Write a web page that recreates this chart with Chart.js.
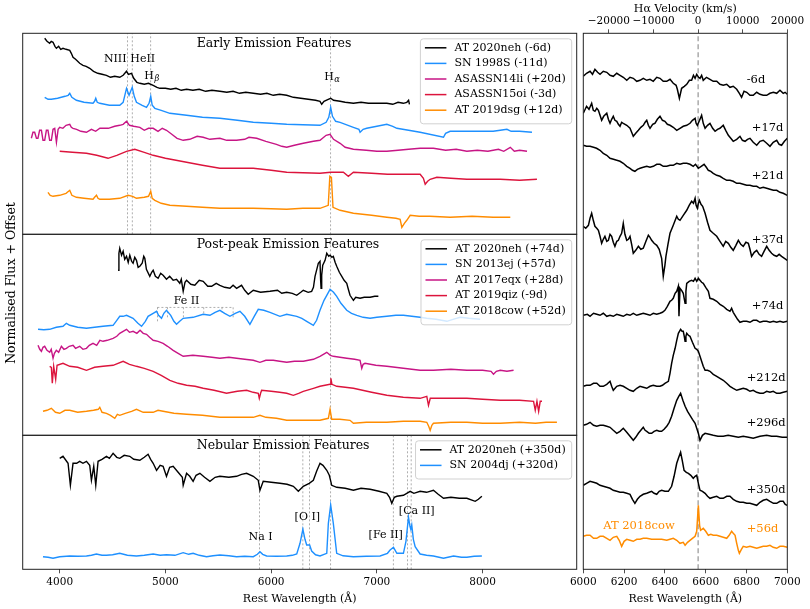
<!DOCTYPE html>
<html>
<head>
    <meta charset="utf-8">
    <title>Spectral comparison of AT 2020neh</title>
    <style>
        body { margin: 0; background: #fff; }
        .figure { position: relative; width: 810px; height: 609px; }
        .figure canvas { position: absolute; left: 0; top: 0; }
    </style>
</head>
<body>
    <div class="figure">
        <canvas id="early" width="810" height="609"></canvas>
        <canvas id="postpeak" width="810" height="609"></canvas>
        <canvas id="nebular" width="810" height="609"></canvas>
        <canvas id="halpha" width="810" height="609"></canvas>
    </div>

    <script src="https://cdn.jsdelivr.net/npm/chart.js"></script>
    <script>
        // ---- data: [rest wavelength (A), normalised flux + offset] ----

        // Early emission features
        const early_2020neh = [[3858,19.6],[3880,19.3],[3905,19.1],[3920,19.3],[3937,19.2],[3955,18.8],[3969,18.6],[3990,18.8],[4010,18.5],[4031,18.6],[4060,18.5],[4095,18.4],[4110,18.1],[4126,17.7],[4150,17.5],[4189,17.1],[4220,16.9],[4250,16.8],[4284,16.6],[4320,16.3],[4360,16.1],[4400,16.0],[4442,15.9],[4480,15.7],[4520,15.8],[4568,15.7],[4600,15.9],[4632,16.3],[4650,16.0],[4679,16.1],[4700,15.6],[4730,15.2],[4758,15.1],[4800,15.0],[4840,15.1],[4884,14.9],[4920,14.7],[4947,14.6],[5000,14.6],[5050,14.5],[5100,14.6],[5150,14.4],[5200,14.5],[5260,14.4],[5320,14.5],[5380,14.3],[5440,14.4],[5515,14.3],[5580,14.2],[5640,14.3],[5700,14.1],[5760,14.2],[5831,14.1],[5900,14.0],[5960,14.1],[6020,13.9],[6080,14.0],[6147,13.9],[6210,13.7],[6280,13.6],[6350,13.5],[6420,13.4],[6462,13.3],[6478,13.0],[6500,13.3],[6540,13.5],[6563,13.6],[6590,13.4],[6652,13.3],[6700,13.2],[6778,13.1],[6850,13.2],[6920,13.1],[7000,13.1],[7094,13.1],[7150,13.0],[7200,13.2],[7250,13.1],[7283,13.2],[7300,13.4],[7308,13.0]];
        const early_1998S = [[3858,13.7],[3890,13.5],[3921,13.5],[3980,13.6],[4050,13.8],[4080,13.9],[4095,14.1],[4115,13.7],[4158,13.4],[4230,13.2],[4315,13.1],[4330,13.3],[4341,13.6],[4355,13.2],[4379,13.1],[4470,12.9],[4568,12.9],[4600,13.2],[4632,14.6],[4656,13.9],[4686,14.7],[4705,13.8],[4726,13.2],[4780,12.9],[4821,12.7],[4845,13.1],[4861,13.8],[4875,12.9],[4900,12.6],[4960,12.4],[5042,12.1],[5200,11.9],[5350,11.7],[5515,11.6],[5680,11.4],[5831,11.2],[6000,11.1],[6147,11.0],[6300,10.95],[6462,10.9],[6520,11.2],[6545,11.7],[6563,12.7],[6580,11.8],[6610,11.3],[6652,11.2],[6778,10.7],[6830,10.5],[6841,10.2],[6870,10.5],[6904,10.6],[7000,10.8],[7094,11.0],[7150,10.8],[7189,10.6],[7300,10.4],[7409,10.2],[7630,9.7],[7650,10.1],[7693,10.3],[7900,10.3],[8100,10.3],[8167,10.4],[8230,10.5],[8270,10.3],[8350,10.3],[8467,10.2]];
        const early_14li = [[3732,9.6],[3747,10.2],[3763,10.2],[3780,9.6],[3794,9.6],[3810,10.4],[3827,10.4],[3842,9.4],[3858,9.4],[3874,10.4],[3889,10.4],[3905,9.4],[3921,9.4],[3937,10.5],[3953,10.6],[3969,9.2],[3985,10.5],[4000,10.7],[4030,10.6],[4060,10.9],[4095,11.0],[4110,10.7],[4126,10.6],[4160,10.5],[4200,10.3],[4253,10.2],[4300,10.5],[4340,10.3],[4380,10.6],[4410,10.6],[4460,10.6],[4520,10.8],[4568,10.9],[4600,11.0],[4632,11.3],[4660,10.9],[4700,10.8],[4758,10.7],[4800,10.4],[4840,10.6],[4884,10.6],[4930,10.3],[4970,10.6],[5010,10.4],[5060,10.0],[5110,9.6],[5168,9.4],[5230,9.5],[5300,9.8],[5357,9.7],[5420,9.5],[5515,9.6],[5580,9.4],[5673,9.4],[5750,9.5],[5790,9.7],[5863,9.6],[5950,9.3],[6050,9.0],[6100,8.8],[6147,8.7],[6220,8.9],[6304,9.1],[6400,9.3],[6462,9.4],[6520,9.9],[6557,10.0],[6590,9.5],[6652,9.1],[6700,8.7],[6778,8.5],[6900,8.4],[7000,8.3],[7094,8.3],[7200,8.4],[7300,8.5],[7409,8.6],[7535,8.6],[7650,8.4],[7750,8.5],[7851,8.3],[7950,8.4],[8050,8.3],[8150,8.5],[8200,8.3],[8262,8.7],[8300,8.3],[8350,8.4],[8420,8.3]];
        const early_15oi = [[4000,8.3],[4120,8.2],[4253,8.1],[4350,7.9],[4457,7.6],[4540,7.9],[4632,8.3],[4710,8.5],[4800,8.2],[4884,7.9],[5000,7.6],[5100,7.4],[5200,7.2],[5350,6.9],[5515,6.6],[5680,6.6],[5831,6.6],[6000,6.4],[6147,6.2],[6300,6.15],[6462,6.1],[6563,6.2],[6683,6.2],[6730,5.8],[6778,6.2],[6950,6.1],[7100,6.0],[7250,6.0],[7409,6.0],[7440,5.6],[7457,5.0],[7480,5.3],[7504,5.5],[7567,5.7],[7700,5.6],[7851,5.5],[8000,5.5],[8167,5.5],[8350,5.4],[8514,5.5]];
        const early_2019dsg = [[3889,4.2],[3910,3.9],[3937,3.8],[4000,3.9],[4060,4.1],[4095,4.4],[4115,3.9],[4158,3.7],[4230,3.6],[4315,3.5],[4330,3.7],[4348,3.9],[4362,3.6],[4379,3.5],[4470,3.5],[4568,3.6],[4647,3.9],[4690,3.8],[4726,3.6],[4800,3.7],[4840,3.8],[4861,4.3],[4875,3.6],[4900,3.4],[4960,3.1],[5042,2.9],[5200,2.8],[5350,2.7],[5515,2.6],[5680,2.6],[5831,2.6],[6000,2.55],[6147,2.5],[6300,2.6],[6462,2.6],[6540,2.9],[6555,5.8],[6570,5.7],[6585,2.7],[6652,2.4],[6778,2.1],[6950,1.9],[7094,1.7],[7180,1.6],[7220,1.5],[7236,0.7],[7260,1.1],[7283,1.4],[7315,1.9],[7400,1.8],[7500,1.8],[7693,1.7],[7900,1.8],[8100,1.7],[8262,1.7]];
        const early_labels = ['AT 2020neh (-6d)', 'SN 1998S (-11d)', 'ASASSN14li (+20d)', 'ASASSN15oi (-3d)', 'AT 2019dsg (+12d)'];
        const early_lines = [4640, 4686, 4861, 6563];

        // Post-peak emission features
        const post_2020neh = [[4552,16.5],[4560,18.2],[4568,18.7],[4585,18.0],[4600,18.4],[4615,17.6],[4632,17.9],[4648,17.3],[4663,18.0],[4680,17.4],[4694,17.2],[4710,17.8],[4726,17.5],[4742,16.8],[4758,16.9],[4780,17.2],[4795,17.9],[4805,17.7],[4820,16.6],[4852,15.9],[4870,16.3],[4884,16.5],[4905,15.9],[4931,15.7],[4955,16.2],[4978,16.0],[5010,15.6],[5040,15.9],[5073,15.5],[5105,15.6],[5136,15.2],[5150,15.6],[5168,14.4],[5185,15.3],[5200,15.5],[5240,15.1],[5278,15.0],[5320,15.5],[5357,15.4],[5400,14.9],[5437,14.9],[5480,15.2],[5515,15.0],[5560,14.8],[5610,14.7],[5640,15.0],[5673,14.7],[5720,15.0],[5750,14.5],[5783,14.1],[5831,14.5],[5900,14.3],[5989,14.4],[6060,14.5],[6100,14.2],[6147,14.3],[6200,14.2],[6242,14.0],[6280,14.3],[6304,14.5],[6350,14.3],[6383,14.4],[6400,14.8],[6415,15.9],[6446,17.2],[6462,17.4],[6468,15.5],[6472,14.7],[6478,16.0],[6488,17.0],[6510,17.5],[6526,18.2],[6545,17.9],[6557,18.0],[6575,17.8],[6588,17.9],[6605,17.3],[6620,16.9],[6645,16.3],[6668,15.9],[6690,15.5],[6715,15.2],[6730,14.6],[6746,14.0],[6778,13.5],[6800,13.8],[6841,13.7],[6880,13.8],[6936,13.8],[6980,13.9],[7014,13.9]];
        const post_2013ej = [[3795,10.6],[3850,10.55],[3905,10.6],[3968,10.8],[4031,10.9],[4063,11.2],[4095,11.0],[4170,10.8],[4253,10.7],[4330,10.8],[4410,10.9],[4505,11.0],[4540,11.5],[4568,11.9],[4600,11.9],[4632,12.0],[4694,11.7],[4740,11.2],[4774,10.9],[4810,11.4],[4836,11.9],[4884,12.2],[4916,12.4],[4935,12.0],[4963,11.7],[4985,12.2],[5010,12.5],[5050,12.0],[5080,11.4],[5105,11.1],[5135,11.4],[5168,11.7],[5262,11.8],[5357,12.1],[5421,12.0],[5470,12.3],[5515,12.5],[5560,12.2],[5610,11.9],[5660,12.2],[5705,12.4],[5750,11.9],[5799,11.1],[5840,11.9],[5878,12.6],[5930,12.5],[5989,12.3],[6083,11.9],[6147,12.1],[6242,11.9],[6290,11.7],[6336,11.4],[6399,11.0],[6430,11.5],[6462,12.5],[6500,13.5],[6526,14.0],[6557,14.6],[6590,14.3],[6620,13.9],[6660,13.2],[6715,12.5],[6760,12.2],[6810,12.0],[6870,11.8],[6936,11.7],[7000,11.8],[7094,11.9],[7180,12.0],[7251,12.0],[7330,11.9],[7409,11.8],[7472,11.7],[7560,11.6],[7662,11.4],[7720,11.6],[7788,11.8],[7870,11.7],[7977,11.6]];
        const post_2017eqx = [[3795,9.0],[3811,8.6],[3827,8.4],[3842,8.8],[3858,8.9],[3880,8.5],[3905,8.3],[3920,8.6],[3937,7.7],[3950,8.2],[3968,8.5],[3990,8.3],[4016,8.9],[4040,8.6],[4063,8.7],[4090,8.9],[4126,9.0],[4150,8.7],[4189,8.9],[4220,8.6],[4253,8.7],[4280,9.0],[4315,9.2],[4350,9.0],[4380,9.5],[4410,9.4],[4450,9.5],[4505,9.7],[4540,9.9],[4568,10.2],[4600,10.4],[4632,10.6],[4660,10.3],[4694,10.4],[4730,10.2],[4760,10.5],[4790,10.2],[4821,10.1],[4850,9.8],[4884,9.5],[4930,9.4],[4978,9.2],[5020,8.9],[5073,8.5],[5120,8.2],[5168,7.9],[5260,8.0],[5357,7.9],[5440,7.8],[5515,7.7],[5600,7.8],[5673,7.7],[5750,7.6],[5831,7.5],[5894,7.3],[5950,7.5],[6020,7.5],[6080,7.4],[6147,7.3],[6220,7.4],[6304,7.4],[6400,7.6],[6462,7.9],[6526,8.3],[6560,8.0],[6588,7.9],[6650,7.8],[6715,7.7],[6790,7.6],[6841,7.5],[6857,6.7],[6870,7.1],[6888,7.2],[6990,7.0],[7094,6.9],[7250,6.7],[7409,6.5],[7535,6.5],[7700,6.6],[7851,6.5],[8000,6.5],[8080,6.4],[8103,6.1],[8130,6.4],[8167,6.5],[8230,6.4],[8293,6.5]];
        const post_2019qiz = [[3905,6.9],[3921,6.8],[3930,5.2],[3943,6.9],[3962,5.6],[3975,7.0],[4031,7.2],[4095,6.9],[4170,6.8],[4253,6.5],[4330,6.8],[4410,6.9],[4505,7.0],[4600,7.4],[4660,7.1],[4726,6.9],[4800,6.7],[4884,6.4],[4960,6.0],[5042,5.5],[5120,5.2],[5200,5.0],[5280,4.9],[5357,4.7],[5460,4.5],[5578,4.2],[5680,4.4],[5768,4.5],[5830,4.3],[5878,4.2],[5888,3.7],[5900,4.2],[5910,4.5],[6000,4.4],[6080,4.3],[6147,4.2],[6210,4.0],[6260,4.2],[6304,4.4],[6400,4.7],[6462,4.9],[6557,5.1],[6565,5.7],[6575,5.1],[6620,4.9],[6700,4.8],[6778,4.7],[6950,4.3],[7094,4.0],[7250,3.8],[7409,3.7],[7472,3.9],[7488,3.0],[7505,3.7],[7520,3.7],[7700,3.7],[7851,3.7],[8000,3.6],[8167,3.5],[8350,3.5],[8482,3.4],[8498,2.5],[8514,3.4],[8530,2.4],[8545,3.4],[8562,3.4]];
        const post_2018cow = [[3842,2.4],[3880,2.5],[3921,2.7],[3960,2.3],[4000,2.2],[4050,2.5],[4095,2.5],[4170,2.3],[4253,2.4],[4320,2.5],[4365,2.6],[4379,2.8],[4400,2.3],[4442,2.2],[4480,2.0],[4521,1.7],[4545,2.1],[4568,2.0],[4620,2.2],[4680,2.4],[4726,2.6],[4790,2.3],[4884,2.3],[4930,2.5],[4978,2.4],[5080,2.2],[5200,2.1],[5350,2.0],[5515,1.8],[5680,1.8],[5831,1.8],[5894,2.0],[5950,1.8],[6050,1.7],[6147,1.5],[6300,1.5],[6462,1.5],[6541,1.7],[6557,2.6],[6573,1.6],[6650,1.6],[6746,1.5],[6778,1.2],[6900,1.3],[7094,1.3],[7250,1.4],[7409,1.4],[7472,1.3],[7490,0.9],[7504,0.5],[7520,1.0],[7535,1.2],[7700,1.3],[7851,1.3],[8000,1.2],[8167,1.2],[8350,1.3],[8500,1.2],[8600,1.3],[8703,1.3]];
        const post_labels = ['AT 2020neh (+74d)', 'SN 2013ej (+57d)', 'AT 2017eqx (+28d)', 'AT 2019qiz (-9d)', 'AT 2018cow (+52d)'];
        const post_lines = [6563];
        const feII_lines = [4924, 5018, 5169, 5363, 5535, 5640];
        const feII_floor = [11.3, 11.6, 11.6, 12.1, 12.3, 11.8];
        const feII_top = 12.8;

        // Nebular emission features
        const neb_2020neh = [[4000,11.1],[4031,11.3],[4079,10.6],[4101,8.4],[4126,10.6],[4160,10.6],[4189,10.8],[4220,10.6],[4253,10.8],[4284,10.4],[4300,8.9],[4322,10.3],[4341,8.4],[4363,10.8],[4400,11.0],[4442,11.3],[4470,11.1],[4505,11.6],[4540,11.2],[4568,11.1],[4610,11.4],[4663,11.3],[4700,11.0],[4758,10.9],[4800,11.2],[4836,11.5],[4860,11.0],[4884,10.6],[4916,9.9],[4950,10.4],[4978,10.3],[5010,9.3],[5040,10.2],[5073,10.3],[5120,9.7],[5160,9.2],[5168,8.4],[5200,9.6],[5230,9.3],[5262,8.8],[5290,9.4],[5326,9.6],[5370,9.2],[5421,8.8],[5470,9.2],[5515,9.3],[5600,9.2],[5673,9.3],[5720,9.5],[5768,9.6],[5831,9.3],[5878,8.9],[5894,7.9],[5925,8.8],[6000,8.7],[6083,8.6],[6150,8.5],[6210,8.3],[6257,7.8],[6304,8.3],[6360,8.6],[6399,8.9],[6430,9.8],[6462,10.6],[6490,10.4],[6526,9.9],[6550,9.4],[6573,8.4],[6620,8.2],[6700,8.1],[6778,7.9],[6850,8.1],[6936,8.0],[7020,7.8],[7094,7.6],[7120,7.2],[7141,6.6],[7165,7.2],[7189,7.3],[7251,7.4],[7315,7.8],[7350,7.6],[7409,7.8],[7470,7.7],[7535,7.9],[7580,7.5],[7630,7.1],[7700,7.2],[7780,7.1],[7851,7.1],[7930,6.8],[7960,7.0],[7993,7.3]];
        const neb_2004dj = [[3842,1.26],[3890,1.2],[3937,1.1],[4000,1.25],[4095,1.33],[4170,1.3],[4253,1.33],[4300,1.4],[4347,1.53],[4400,1.4],[4442,1.4],[4500,1.45],[4568,1.6],[4640,1.4],[4726,1.33],[4800,1.4],[4884,1.53],[4950,1.4],[5010,1.46],[5090,1.4],[5168,1.66],[5220,1.5],[5262,1.6],[5320,1.4],[5389,1.26],[5450,1.35],[5515,1.43],[5600,1.35],[5673,1.26],[5750,1.3],[5831,1.26],[5870,1.5],[5894,1.76],[5920,1.5],[5957,1.33],[6050,1.3],[6147,1.33],[6200,1.4],[6242,1.53],[6273,2.6],[6300,4.0],[6320,3.0],[6336,2.43],[6364,2.43],[6383,1.83],[6420,1.45],[6462,1.33],[6526,1.6],[6541,4.6],[6563,6.43],[6588,4.6],[6620,1.6],[6680,1.35],[6778,1.26],[6900,1.3],[7030,1.33],[7100,1.6],[7125,1.93],[7157,2.2],[7189,1.6],[7251,1.6],[7275,2.8],[7299,5.2],[7313,4.3],[7321,4.0],[7330,4.43],[7345,3.0],[7362,2.26],[7409,1.53],[7470,1.4],[7535,1.33],[7630,1.1],[7725,1.33],[7800,1.2],[7851,1.2],[7920,1.3],[7993,1.33]];
        const neb_labels = ['AT 2020neh (+350d)', 'SN 2004dj (+320d)'];
        const neb_lines = [5890, 6300, 6364, 6563, 7155, 7291, 7324];

        // H-alpha region, AT 2020neh epochs + AT 2018cow
        const ha_m6 = [[6000,49.3],[6016,49.6],[6033,49.8],[6045,49.5],[6057,50.0],[6070,49.7],[6082,49.5],[6098,49.8],[6115,49.7],[6131,49.4],[6147,49.3],[6164,49.6],[6180,49.4],[6196,49.2],[6213,48.9],[6229,49.2],[6245,49.1],[6262,48.8],[6278,48.9],[6294,49.1],[6311,48.9],[6327,49.0],[6343,48.8],[6360,49.2],[6376,49.1],[6392,48.8],[6409,48.8],[6425,49.0],[6441,48.6],[6455,48.4],[6461,48.0],[6471,47.1],[6482,48.1],[6495,48.3],[6507,48.5],[6520,48.9],[6531,48.9],[6540,49.4],[6548,49.1],[6556,49.5],[6565,49.2],[6572,49.1],[6580,49.4],[6588,48.9],[6604,49.2],[6621,49.0],[6637,48.8],[6654,48.8],[6670,48.5],[6686,48.4],[6703,48.5],[6719,48.2],[6735,48.3],[6752,48.0],[6765,47.6],[6776,47.2],[6788,47.8],[6801,47.7],[6817,47.4],[6833,47.4],[6850,47.7],[6866,47.5],[6882,47.4],[6899,47.4],[6915,47.6],[6932,47.7],[6948,47.6],[6964,47.9],[6980,47.6],[6989,47.7],[7000,47.5]];
        const ha_p17 = [[6000,45.6],[6016,46.3],[6028,46.0],[6041,46.6],[6049,45.9],[6057,45.8],[6066,46.1],[6074,45.9],[6082,45.4],[6090,44.9],[6100,45.3],[6115,45.6],[6123,45.0],[6131,44.6],[6139,45.0],[6147,45.3],[6155,44.9],[6164,44.8],[6172,44.5],[6180,44.3],[6188,44.7],[6196,44.6],[6213,44.4],[6229,44.1],[6237,43.7],[6245,43.3],[6257,43.6],[6270,43.9],[6282,44.2],[6294,44.4],[6303,44.7],[6311,44.9],[6319,44.4],[6327,44.1],[6340,44.5],[6351,44.6],[6363,45.0],[6376,45.3],[6388,44.9],[6400,44.8],[6412,44.5],[6425,44.4],[6441,44.2],[6458,43.9],[6474,44.1],[6490,44.3],[6507,44.4],[6523,44.6],[6535,44.9],[6548,45.1],[6553,44.6],[6559,44.4],[6570,44.9],[6580,45.4],[6588,44.6],[6597,44.1],[6609,44.4],[6621,44.6],[6634,44.1],[6646,43.8],[6658,44.0],[6670,44.1],[6686,44.4],[6698,43.9],[6711,43.4],[6723,43.1],[6735,42.8],[6752,43.0],[6768,43.3],[6780,42.9],[6793,42.8],[6805,43.0],[6817,43.1],[6833,42.7],[6850,42.4],[6866,42.8],[6882,42.9],[6899,42.6],[6915,42.3],[6931,42.7],[6948,42.9],[6960,42.5],[6972,42.4],[6986,42.8],[7000,43.1]];
        const ha_p21 = [[6000,42.4],[6016,42.3],[6033,42.3],[6050,42.2],[6065,42.1],[6082,41.9],[6098,41.6],[6115,41.4],[6131,41.1],[6148,41.0],[6164,40.9],[6180,40.8],[6196,40.6],[6213,40.3],[6229,40.1],[6241,39.9],[6253,39.8],[6265,40.0],[6278,40.1],[6294,40.2],[6311,40.3],[6327,40.2],[6343,40.3],[6360,40.5],[6376,40.5],[6392,40.3],[6409,40.3],[6425,40.4],[6441,40.4],[6458,40.6],[6474,40.5],[6490,40.6],[6507,40.6],[6523,40.5],[6539,40.3],[6550,40.5],[6564,40.1],[6578,40.3],[6592,40.5],[6603,40.2],[6613,39.9],[6625,39.8],[6637,39.6],[6654,39.4],[6670,39.3],[6686,39.1],[6703,38.9],[6719,38.9],[6735,38.8],[6752,38.6],[6768,38.6],[6784,38.5],[6801,38.4],[6817,38.4],[6833,38.3],[6850,38.3],[6866,38.1],[6882,38.2],[6899,38.1],[6915,38.0],[6932,37.9],[6948,37.9],[6964,37.7],[6980,37.6],[7000,37.4]];
        const ha_p37 = [[6000,34.3],[6012,34.1],[6025,34.4],[6033,35.1],[6041,35.6],[6049,34.9],[6057,34.3],[6066,34.1],[6074,33.9],[6082,33.3],[6090,32.6],[6098,33.0],[6106,33.3],[6115,32.8],[6123,32.9],[6131,33.5],[6139,33.3],[6147,32.7],[6155,32.3],[6164,32.8],[6172,32.9],[6180,33.3],[6188,33.6],[6196,34.6],[6204,33.5],[6213,32.9],[6221,33.0],[6229,33.3],[6237,32.5],[6245,31.6],[6257,31.9],[6270,32.3],[6282,32.0],[6294,32.1],[6307,32.8],[6319,33.4],[6327,33.2],[6335,32.9],[6347,32.6],[6360,32.4],[6372,32.0],[6384,31.1],[6392,29.3],[6400,30.4],[6405,31.3],[6415,32.5],[6425,33.6],[6441,34.4],[6458,35.3],[6466,35.0],[6474,34.9],[6490,35.4],[6507,35.9],[6519,36.4],[6531,36.8],[6540,36.6],[6548,37.1],[6553,36.4],[6559,36.1],[6564,36.6],[6569,36.9],[6577,36.5],[6585,36.3],[6597,35.6],[6609,34.7],[6621,33.9],[6637,33.6],[6654,33.3],[6670,32.8],[6686,32.3],[6698,32.8],[6711,32.6],[6723,32.2],[6735,31.9],[6748,32.4],[6760,32.9],[6772,32.5],[6784,32.3],[6797,32.7],[6809,32.6],[6817,32.0],[6825,31.3],[6838,31.7],[6850,31.9],[6862,31.5],[6874,31.3],[6886,31.8],[6899,32.3],[6911,31.9],[6923,31.6],[6935,31.4],[6948,31.3],[6960,31.5],[6972,31.3],[6986,31.1],[7000,30.9]];
        const ha_p74 = [[6000,25.4],[6020,25.5],[6033,25.3],[6050,25.6],[6066,25.5],[6082,25.4],[6098,25.6],[6115,25.3],[6131,25.4],[6147,25.3],[6164,25.5],[6180,25.4],[6196,25.3],[6213,25.5],[6229,25.4],[6245,25.6],[6262,25.4],[6278,25.5],[6294,25.6],[6311,25.5],[6327,25.4],[6343,25.6],[6360,25.5],[6376,25.6],[6388,25.7],[6400,25.9],[6412,26.3],[6425,26.8],[6433,26.9],[6441,27.1],[6450,27.6],[6458,27.8],[6466,28.3],[6469,25.3],[6474,28.1],[6482,27.9],[6490,27.6],[6499,26.6],[6503,27.8],[6507,28.6],[6519,28.8],[6531,28.9],[6540,28.8],[6548,29.1],[6556,28.8],[6564,29.1],[6572,28.9],[6580,28.7],[6588,28.6],[6600,28.2],[6613,27.8],[6621,27.1],[6637,27.0],[6654,26.8],[6670,26.5],[6686,26.3],[6703,26.0],[6719,25.8],[6727,26.1],[6735,25.7],[6744,25.4],[6756,25.0],[6768,24.7],[6784,24.8],[6801,24.8],[6817,24.7],[6833,24.9],[6850,24.9],[6866,24.7],[6882,24.8],[6899,24.8],[6915,24.7],[6932,24.8],[6948,24.7],[6964,24.8],[6980,24.7],[7000,24.8]];
        const ha_p212 = [[6000,18.3],[6016,18.4],[6033,18.4],[6050,18.6],[6066,18.6],[6082,18.3],[6098,18.3],[6115,18.5],[6131,18.8],[6139,18.3],[6147,17.9],[6164,18.3],[6180,18.4],[6196,18.3],[6213,18.1],[6229,17.9],[6245,17.8],[6262,18.1],[6278,18.3],[6294,18.2],[6311,18.1],[6327,18.3],[6343,18.4],[6360,18.3],[6376,18.3],[6388,18.4],[6400,18.6],[6417,18.8],[6425,19.6],[6433,20.6],[6441,21.4],[6450,22.1],[6458,22.9],[6466,23.6],[6477,24.0],[6484,23.8],[6490,23.8],[6495,23.3],[6499,22.8],[6503,23.3],[6507,23.6],[6515,23.4],[6523,23.3],[6535,22.7],[6548,22.1],[6556,22.0],[6564,21.8],[6572,21.3],[6580,20.8],[6588,20.3],[6597,19.9],[6609,19.9],[6621,19.8],[6637,19.5],[6654,19.3],[6670,19.1],[6686,18.9],[6703,18.6],[6719,18.3],[6735,18.1],[6752,17.9],[6768,18.0],[6784,18.1],[6801,18.0],[6817,17.8],[6833,17.9],[6850,17.7],[6866,17.6],[6882,17.6],[6899,17.8],[6915,17.7],[6931,17.8],[6948,17.6],[6964,17.6],[6980,17.7],[7000,17.8]];
        const ha_p296 = [[6000,14.4],[6016,14.5],[6033,14.7],[6050,14.4],[6066,14.3],[6082,14.4],[6098,14.4],[6115,14.3],[6131,14.2],[6147,13.9],[6164,13.6],[6180,13.8],[6196,14.1],[6213,13.7],[6229,13.3],[6245,12.9],[6257,13.2],[6270,13.6],[6282,13.9],[6294,14.2],[6303,13.9],[6311,13.8],[6323,13.6],[6335,13.6],[6347,13.8],[6360,13.9],[6372,13.8],[6384,13.8],[6396,14.0],[6409,14.3],[6421,14.7],[6433,15.3],[6445,16.1],[6458,16.9],[6468,17.3],[6477,17.6],[6488,16.9],[6499,16.3],[6511,15.8],[6523,15.4],[6535,15.0],[6548,14.6],[6556,14.1],[6564,13.6],[6572,12.9],[6584,13.4],[6597,13.6],[6617,13.5],[6637,13.4],[6660,13.3],[6686,13.3],[6710,13.4],[6735,13.3],[6760,13.2],[6784,13.3],[6810,13.2],[6833,13.1],[6866,13.3],[6899,13.4],[6923,13.3],[6948,13.3],[6975,13.2],[7000,13.2]];
        const ha_p350 = [[6000,8.4],[6016,8.6],[6033,8.8],[6050,8.7],[6066,8.6],[6082,8.4],[6098,8.3],[6115,8.2],[6131,8.1],[6147,7.9],[6164,7.8],[6180,7.7],[6196,7.7],[6213,7.6],[6229,7.5],[6241,7.0],[6253,6.6],[6265,7.0],[6278,7.3],[6294,7.5],[6311,7.6],[6323,7.7],[6335,7.8],[6347,7.6],[6360,7.5],[6372,7.8],[6384,7.9],[6400,7.8],[6417,7.8],[6433,8.3],[6445,9.3],[6458,10.6],[6468,11.2],[6477,11.7],[6485,10.9],[6494,9.9],[6505,9.7],[6515,9.6],[6527,9.4],[6539,9.1],[6548,9.3],[6556,9.4],[6564,8.6],[6572,7.9],[6584,7.8],[6597,7.6],[6609,7.3],[6621,7.1],[6637,7.2],[6654,7.3],[6670,7.1],[6686,7.1],[6703,7.3],[6719,7.3],[6735,7.0],[6752,6.8],[6768,6.7],[6784,6.7],[6801,6.6],[6817,6.6],[6833,6.5],[6850,6.4],[6866,6.7],[6882,6.9],[6899,7.0],[6915,6.8],[6932,6.6],[6948,6.6],[6964,6.8],[6980,6.8],[6990,6.5],[7000,6.4]];
        const ha_cow = [[6000,3.3],[6016,3.4],[6033,3.4],[6050,3.1],[6066,3.1],[6082,3.3],[6098,3.3],[6115,3.1],[6131,2.9],[6147,3.2],[6164,3.3],[6176,2.9],[6188,2.3],[6200,2.8],[6213,3.0],[6229,2.9],[6245,2.8],[6262,3.0],[6278,3.0],[6294,3.1],[6311,3.1],[6335,3.0],[6360,3.0],[6384,3.0],[6409,2.9],[6425,3.0],[6441,3.1],[6458,2.9],[6474,2.6],[6490,2.7],[6499,2.4],[6511,2.7],[6523,2.9],[6535,3.1],[6548,3.3],[6556,3.8],[6564,6.4],[6570,4.4],[6575,3.9],[6588,4.1],[6600,3.8],[6613,3.4],[6625,3.5],[6637,3.4],[6654,3.4],[6670,3.3],[6686,3.2],[6703,3.1],[6715,3.4],[6727,3.8],[6735,3.6],[6744,3.4],[6752,2.6],[6760,1.9],[6765,1.6],[6775,2.0],[6784,2.3],[6800,2.2],[6817,2.3],[6833,2.2],[6850,2.1],[6866,2.2],[6882,2.3],[6899,2.3],[6915,2.4],[6931,2.2],[6948,2.1],[6964,2.3],[6980,2.3],[7000,2.2]];
        const ha_epochs = ['-6d', '+17d', '+21d', '+37d', '+74d', '+212d', '+296d', '+350d', '+56d'];
        const ha_epoch_pos = [[6801,48.9],[6826,44.1],[6826,39.3],[6826,32.9],[6826,26.3],[6801,19.1],[6801,14.6],[6801,7.9],[6801,4.0]];

        // axis ticks
        const wlTicks = [4000, 5000, 6000, 7000, 8000];
        const haTicks = [6000, 6200, 6400, 6600, 6800, 7000];
        const velTicks = [-20000, -10000, 0, 10000, 20000];
        const halpha = 6563;
        const cLight = 299792.458;

        const C_BLACK = '#000000', C_BLUE = '#1E90FF', C_MAGENTA = '#C71585', C_RED = '#DC143C', C_ORANGE = '#FF8C00';
        const FIVE = [C_BLACK, C_BLUE, C_MAGENTA, C_RED, C_ORANGE];

        Chart.defaults.font.family = "'DejaVu Serif', serif";
        Chart.defaults.color = '#000';
        Chart.defaults.animation = false;
        Chart.defaults.events = [];

        function spectrum(label, color, pairs, width) {
            return {
                label: label, isSpectrum: true,
                data: pairs.map(p => ({x: p[0], y: p[1]})),
                borderColor: color, backgroundColor: color,
                borderWidth: width || 1.4, pointRadius: 0, tension: 0, fill: false, order: 1
            };
        }

        function refLine(pts, color, width, dash) {
            return {
                data: pts.map(p => ({x: p[0], y: p[1]})),
                borderColor: color, borderWidth: width, borderDash: dash,
                pointRadius: 0, tension: 0, fill: false, order: 5
            };
        }

        function fmtTick(v) {
            return String(v).replace('-', '\u2212');
        }

        function drawText(ctx, n, px, py) {
            const size = n.size || 11;
            ctx.font = size + "px 'DejaVu Serif'";
            ctx.fillStyle = n.color || '#000';
            ctx.textBaseline = 'middle';
            ctx.textAlign = n.align || 'center';
            if (!n.sub) {
                ctx.fillText(n.text, px, py);
                return;
            }
            // main letter + subscript (H_alpha, H_beta)
            const w1 = ctx.measureText(n.text).width;
            ctx.font = "italic " + (size * 0.75) + "px 'DejaVu Serif'";
            const w2 = ctx.measureText(n.sub).width;
            const x0 = px - (w1 + w2) / 2;
            ctx.textAlign = 'left';
            ctx.fillText(n.sub, x0 + w1 + 0.5, py + 3);
            ctx.font = size + "px 'DejaVu Serif'";
            ctx.fillText(n.text, x0, py);
        }

        const decor = {
            id: 'decor',
            afterDatasetsDraw(chart, args, o) {
                const ctx = chart.ctx, a = chart.chartArea;
                const xs = chart.scales.x, ys = chart.scales.y;
                ctx.save();

                (o.notes || []).forEach(n => {
                    drawText(ctx, n, xs.getPixelForValue(n.wl), ys.getPixelForValue(n.v));
                });

                if (o.title) {
                    ctx.font = "12.5px 'DejaVu Serif'";
                    ctx.fillStyle = '#000';
                    ctx.textAlign = 'left';
                    ctx.textBaseline = 'middle';
                    ctx.fillText(o.title, a.left + 174, a.top + 10);
                }

                if (o.legend) {
                    const sets = chart.data.datasets.filter(d => d.isSpectrum);
                    ctx.font = "11px 'DejaVu Serif'";
                    let maxW = 0;
                    sets.forEach(d => { maxW = Math.max(maxW, ctx.measureText(d.label).width); });
                    const w = 34 + maxW + 6, rowH = 15.6, h = sets.length * rowH + 7;
                    const bx = a.right - 5 - w, by = a.top + 5.5;
                    ctx.beginPath();
                    ctx.roundRect(bx, by, w, h, 3);
                    ctx.fillStyle = 'rgba(255,255,255,0.8)';
                    ctx.fill();
                    ctx.strokeStyle = 'rgba(204,204,204,0.9)';
                    ctx.lineWidth = 1;
                    ctx.stroke();
                    sets.forEach((d, i) => {
                        const cy = by + 9 + i * rowH;
                        ctx.beginPath();
                        ctx.moveTo(bx + 4.5, cy);
                        ctx.lineTo(bx + 26, cy);
                        ctx.strokeStyle = d.borderColor;
                        ctx.lineWidth = 1.5;
                        ctx.stroke();
                        ctx.fillStyle = '#000';
                        ctx.textAlign = 'left';
                        ctx.textBaseline = 'middle';
                        ctx.fillText(d.label, bx + 34, cy);
                    });
                }

                if (o.ylabel) {
                    ctx.translate(12, 283);
                    ctx.rotate(-Math.PI / 2);
                    ctx.font = "12.5px 'DejaVu Serif'";
                    ctx.fillStyle = '#000';
                    ctx.textAlign = 'center';
                    ctx.textBaseline = 'middle';
                    ctx.fillText(o.ylabel, 0, 0);
                    ctx.setTransform(1, 0, 0, 1, 0, 0);
                    ctx.scale(chart.currentDevicePixelRatio, chart.currentDevicePixelRatio);
                }

                ctx.strokeStyle = '#222';
                ctx.lineWidth = 1;
                ctx.strokeRect(a.left, a.top, a.right - a.left, a.bottom - a.top);
                ctx.restore();
            }
        };

        function bottomAxis(min, max, ticks) {
            return {
                type: 'linear', position: 'bottom', min: min, max: max,
                afterBuildTicks: s => { s.ticks = ticks.map(v => ({value: v})); },
                afterFit: s => { s.height = 39.7; },
                grid: { drawOnChartArea: false, tickLength: 4, color: '#222', lineWidth: 0.8 },
                border: { display: false },
                ticks: { font: { size: 10.5 }, padding: 3, maxRotation: 0, autoSkip: false, callback: fmtTick },
                title: { display: true, text: 'Rest Wavelength (\u00C5)', font: { size: 11 }, padding: { top: 0, bottom: 3 } }
            };
        }

        function leftPanel(id, pad, ymax, sets, lines, extra, decorOpts, showAxis) {
            const datasets = sets.concat(lines.map(l => refLine([[l, 0], [l, ymax]], '#8c8c8c', 0.7, [2, 2]))).concat(extra || []);
            return new Chart(document.getElementById(id), {
                type: 'line',
                data: { datasets: datasets },
                options: {
                    responsive: false,
                    layout: { padding: pad },
                    scales: {
                        x: showAxis ? bottomAxis(3650, 8890, wlTicks) : { type: 'linear', min: 3650, max: 8890, display: false },
                        y: { type: 'linear', min: 0, max: ymax, display: false }
                    },
                    plugins: { legend: { display: false }, tooltip: { enabled: false }, decor: decorOpts }
                },
                plugins: [decor]
            });
        }

        // --- Early emission features ---
        leftPanel('early', { left: 22.7, top: 33.3, right: 233.3, bottom: 374.7 }, 20.1,
            [early_2020neh, early_1998S, early_14li, early_15oi, early_2019dsg].map((s, i) => spectrum(early_labels[i], FIVE[i], s)),
            early_lines, [],
            {
                title: 'Early Emission Features', legend: true,
                notes: [
                    { text: 'NIII', wl: 4525, v: 17.5 },
                    { text: 'HeII', wl: 4785, v: 17.5 },
                    { text: 'H', sub: '\u03B2', wl: 4868, v: 15.8 },
                    { text: 'H', sub: '\u03B1', wl: 6573, v: 15.7 }
                ]
            }, false);

        // --- Post-peak emission features ---
        const feBracket = [refLine([[feII_lines[0], feII_top], [feII_lines[feII_lines.length - 1], feII_top]], '#8c8c8c', 0.7, [2, 2])]
            .concat(feII_lines.map((l, i) => refLine([[l, feII_top], [l, feII_floor[i]]], '#8c8c8c', 0.7, [2, 2])));
        leftPanel('postpeak', { left: 22.7, top: 234.3, right: 233.3, bottom: 173.7 }, 20.1,
            [post_2020neh, post_2013ej, post_2017eqx, post_2019qiz, post_2018cow].map((s, i) => spectrum(post_labels[i], FIVE[i], s)),
            post_lines, feBracket,
            {
                title: 'Post-peak Emission Features', legend: true, ylabel: 'Normalised Flux + Offset',
                notes: [{ text: 'Fe II', wl: 5200, v: 13.4 }]
            }, false);

        // --- Nebular emission features ---
        leftPanel('nebular', { left: 22.7, top: 435.3, right: 233.3, bottom: 0 }, 13.4,
            [neb_2020neh, neb_2004dj].map((s, i) => spectrum(neb_labels[i], FIVE[i], s)),
            neb_lines, [],
            {
                title: 'Nebular Emission Features', legend: true,
                notes: [
                    { text: 'Na I', wl: 5900, v: 3.26 },
                    { text: '[O I]', wl: 6342, v: 5.2 },
                    { text: '[Fe II]', wl: 7084, v: 3.43 },
                    { text: '[Ca II]', wl: 7377, v: 5.86 }
                ]
            }, true);

        // --- H-alpha velocity panel ---
        const haSets = [ha_m6, ha_p17, ha_p21, ha_p37, ha_p74, ha_p212, ha_p296, ha_p350]
            .map(s => spectrum('', C_BLACK, s, 1.5))
            .concat([spectrum('', C_ORANGE, ha_cow, 1.5)]);
        haSets.forEach(d => { d.isSpectrum = false; });
        const haNotes = ha_epochs.map((t, i) => ({
            text: t, wl: ha_epoch_pos[i][0], v: ha_epoch_pos[i][1], align: 'left', size: 11.5,
            color: i === ha_epochs.length - 1 ? C_ORANGE : '#000'
        }));
        haNotes.push({ text: 'AT 2018cow', wl: 6098, v: 4.3, align: 'left', size: 11.5, color: C_ORANGE });

        new Chart(document.getElementById('halpha'), {
            type: 'line',
            data: {
                datasets: haSets.concat([refLine([[halpha, 0], [halpha, 53.6]], '#aaaaaa', 1.5, [5, 3])])
            },
            options: {
                responsive: false,
                layout: { padding: { left: 583.3, right: 22.7, top: 0, bottom: 0 } },
                scales: {
                    x: bottomAxis(6000, 7000, haTicks),
                    x2: {
                        type: 'linear', position: 'top',
                        min: (6000 / halpha - 1) * cLight, max: (7000 / halpha - 1) * cLight,
                        afterBuildTicks: s => { s.ticks = velTicks.map(v => ({value: v})); },
                        afterFit: s => { s.height = 33.3; },
                        grid: { drawOnChartArea: false, tickLength: 4, color: '#222', lineWidth: 0.8 },
                        border: { display: false },
                        ticks: { font: { size: 10.5 }, padding: 2, maxRotation: 0, autoSkip: false, callback: fmtTick },
                        title: { display: true, text: 'H\u03B1 Velocity (km/s)', font: { size: 11 }, padding: { top: 3, bottom: 0 } }
                    },
                    y: { type: 'linear', min: 0, max: 53.6, display: false }
                },
                plugins: { legend: { display: false }, tooltip: { enabled: false }, decor: { notes: haNotes } }
            },
            plugins: [decor]
        });
    </script>
</body>
</html>
